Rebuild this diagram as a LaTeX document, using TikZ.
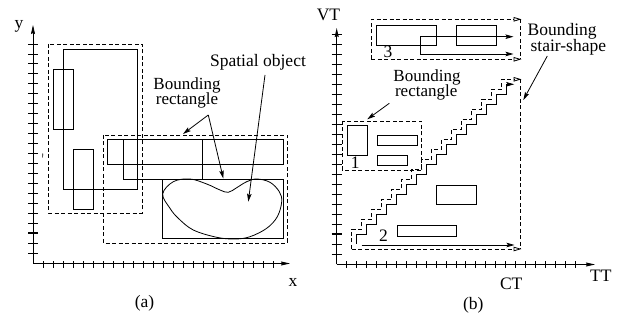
\documentclass[tikz,border=0pt]{standalone}
\usepackage{fontspec}
\setmainfont{Liberation Serif}
\usetikzlibrary{arrows.meta}
\begin{document}
\begin{tikzpicture}[x=1pt,y=-1pt,line width=0.8pt,
  solidbox/.style={draw,line width=0.8pt},
  bnd/.style={draw,line width=0.8pt,dash pattern=on 4pt off 2.5pt},
  axisline/.style={-{Stealth[length=9pt,width=4pt,inset=1pt]}},
  ticksty/.style={line width=0.8pt},
  bigtick/.style={line width=1.8pt},
  lbl/.style={font=\fontsize{17.5}{19}\selectfont,inner sep=0pt},
  ptr/.style={-{Stealth[length=8pt,width=4.5pt,inset=1.5pt]}},
  growtip/.style={-{Stealth[length=8pt,width=4.5pt,inset=1.5pt]}},
  opentip/.style={-{Stealth[open,length=8pt,width=4.5pt,inset=0pt]}}]
\useasboundingbox (0,0) rectangle (618,320);

% ---------------- panel (a): spatial data ----------------
\coordinate (oa) at (33,263.5);
\coordinate (yatip) at (33,25);
\coordinate (xatip) at (290,263.5);
\draw[axisline] (oa) -- (yatip);
\draw[axisline] (oa) -- (xatip);
\foreach \k in {0,...,21} {
  \ifnum\k=19 \draw[bigtick] (28,44+9.95*\k) -- (38,44+9.95*\k);
  \else \draw[ticksty] (28,44+9.95*\k) -- (38,44+9.95*\k); \fi
}
\foreach \k in {0,...,23}
  \draw[ticksty] (43.3+10*\k,261.5) -- (43.3+10*\k,268);
\draw[line width=0.6pt] (42.8,153.5) -- (42.6,157.5);

% bounding rectangles
\draw[bnd] (48,44) rectangle (142,213);
\draw[bnd] (103,135) rectangle (287,243);
% objects
\draw[solidbox] (63,49) rectangle (137,189);
\draw[solidbox] (53,69) rectangle (73,129);
\draw[solidbox] (73,149) rectangle (93,209);
\draw[solidbox] (107,139) rectangle (283,164);
\draw[solidbox] (123,139) rectangle (202,179);
\draw[solidbox] (162,179) rectangle (283,238);
% spatial object outline
\draw[line width=0.8pt] plot[smooth cycle,tension=0.6] coordinates {
  (162.7,194) (173.3,181.7) (190,179) (206.7,184) (220,190) (228.3,192.3)
  (236.7,187.7) (246.7,181.7) (256.7,179) (270,182.3) (279.3,191.7)
  (281.7,201.7) (277.3,216.7) (266.7,228.3) (250,236.7) (235,239)
  (216.7,237.3) (193.3,230) (178.3,218.3) (170,208.3)};

\node[lbl] (ylab) at (19,26) {y};
\node[lbl,anchor=base] (xlab) at (293,286.7) {x};
\node[lbl] (alab) at (144.5,303.5) {(a)};
\node[lbl,anchor=base] (spat) at (258,66.7) {Spatial object};
\node[lbl,anchor=base,font=\fontsize{17}{19}\selectfont] (brA1) at (187,89.5) {Bounding};
\node[lbl,anchor=base,font=\fontsize{17}{19}\selectfont] (brA2) at (187,105) {rectangle};

\coordinate (brAfrom) at (208.3,115);
\coordinate (brAto1) at (183,134);
\coordinate (brAto2) at (223.3,178.5);
\coordinate (spfrom) at (265,75);
\coordinate (spto) at (248.3,201.7);
\draw[ptr] (brAfrom) -- (brAto1);
\draw[ptr] (brAfrom) -- (brAto2);
\draw[ptr] (spfrom) -- (spto);

% ---------------- panel (b): bitemporal data ----------------
\coordinate (ob) at (336.7,264.5);
\coordinate (vttip) at (336.7,28);
\coordinate (tttip) at (595,264.5);
\draw[axisline] (ob) -- (vttip);
\draw[axisline] (ob) -- (tttip);
\foreach \k in {0,...,22} {
  \ifnum\k=20 \draw[bigtick] (331.7,34+10*\k) -- (341.7,34+10*\k);
  \else \draw[ticksty] (331.7,34+10*\k) -- (341.7,34+10*\k); \fi
}
\foreach \k in {0,...,23} {
  \ifnum\k=16 \draw[bigtick] (346.7+9.93*\k,261.5) -- (346.7+9.93*\k,268.3);
  \else\ifnum\k=17 \draw[bigtick] (346.7+9.93*\k,261.5) -- (346.7+9.93*\k,268.3);
  \else \draw[ticksty] (346.7+9.93*\k,261.5) -- (346.7+9.93*\k,268.3); \fi\fi
}

% region 3: growing along transaction time
\draw[bnd] (520.7,19.3) -- (520.7,59.3);
\draw[bnd,opentip] (371,59.3) -- (371,19.3) -- (521.5,19.3);
\draw[bnd,opentip] (371,59.3) -- (521.5,59.3);
\draw[solidbox] (376,25.7) rectangle (436,45);
\draw[solidbox] (456,25.7) rectangle (496,45);
\draw[{Stealth[length=8pt,width=4.5pt,inset=1.5pt]}-{Stealth[length=8pt,width=4.5pt,inset=1.5pt]}]
  (513.5,36.7) -- (420,36.7) -- (420,54) -- (513.5,54);
\node[lbl,anchor=base] (n3) at (388,57.5) {3};

% region 1: ordinary bounding rectangle
\draw[bnd] (342,121) rectangle (421,170);
\draw[solidbox] (347,125) rectangle (367,155);
\draw[solidbox] (377,135) rectangle (417,145);
\draw[solidbox] (377,155) rectangle (407,165);
\node[lbl,anchor=base] (n1) at (355.3,169) {1};

% region 2: stair-shaped objects and bound
\draw[growtip] (356.7,244) -- (356.7,234.3)
  \foreach \k in {1,...,15} { -| ++(10,-10) } -- ++(7.5,0);
\draw[growtip] (361.7,245) -- (514.5,245);
\draw[bnd,opentip] (351.7,249) -- (351.7,229.3)
  \foreach \k in {1,...,15} { -| ++(10,-10) } -- (521.5,79.3);
\draw[bnd] (520.7,79.3) -- (520.7,249);
\draw[bnd,opentip] (351.7,249) -- (521.5,249);
\draw[solidbox] (436,185) rectangle (476,204.3);
\draw[solidbox] (397.3,225) rectangle (456,236.7);
\node[lbl,anchor=base] (n2) at (383.5,241.7) {2};

\node[lbl,anchor=base] (vtlab) at (328.5,20.7) {VT};
\node[lbl,anchor=base] (ttlab) at (600.8,281.7) {TT};
\node[lbl,anchor=base] (ctlab) at (511.2,290) {CT};
\node[lbl] (blab) at (473.3,305) {(b)};
\node[lbl,anchor=base,font=\fontsize{17}{19}\selectfont] (brB1) at (427,81.5) {Bounding};
\node[lbl,anchor=base,font=\fontsize{17}{19}\selectfont] (brB2) at (426.2,97) {rectangle};
\node[lbl,anchor=base] (bsB1) at (562.2,36) {Bounding};
\node[lbl,anchor=base] (bsB2) at (568.3,51.7) {stair-shape};

\coordinate (brBfrom) at (389.3,103.3);
\coordinate (brBto) at (367.3,119.3);
\coordinate (bsBfrom) at (547.3,56);
\coordinate (bsBto) at (523.3,100);
\draw[ptr] (brBfrom) -- (brBto);
\draw[ptr] (bsBfrom) -- (bsBto);
\end{tikzpicture}
\end{document}
